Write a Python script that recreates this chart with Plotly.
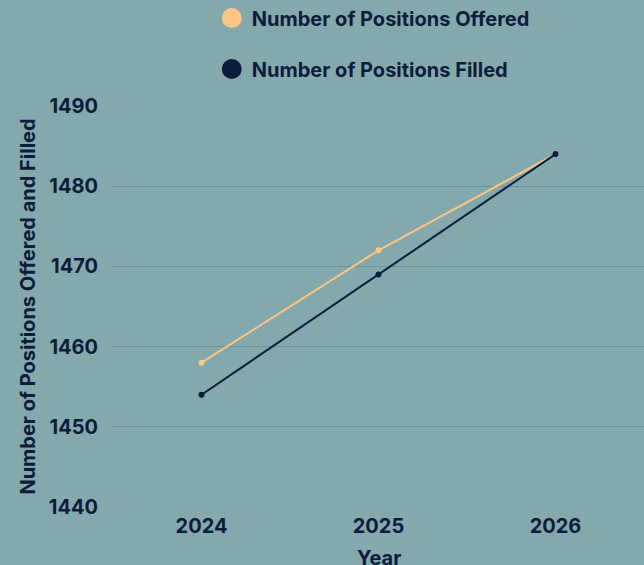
import plotly.graph_objects as go

years = [2024, 2025, 2026]
offered = [1458, 1472, 1484]
filled = [1454, 1469, 1484]
series_names = ["Number of Positions Offered", "Number of Positions Filled"]
x_title = "Year"
y_title = "Number of Positions Offered and Filled"

NAVY = "#0B1C3D"
ORANGE = "#FFC583"
BG = "#84A9AC"
GRID = "#6C9497"
FONT = "Inter"
FS = 20

fig = go.Figure()
fig.add_trace(go.Scatter(x=years, y=offered, mode="lines+markers", showlegend=False,
                         line=dict(color=ORANGE, width=2), marker=dict(color=ORANGE, size=6)))
fig.add_trace(go.Scatter(x=years, y=filled, mode="lines+markers", showlegend=False,
                         line=dict(color=NAVY, width=2), marker=dict(color=NAVY, size=6)))
# legend entries
for name, col, grp in [(series_names[0], ORANGE, "a"), (series_names[1], NAVY, "b")]:
    fig.add_trace(go.Scatter(x=[None], y=[None], mode="markers", name=name, legendgroup=grp,
                             marker=dict(color=col, size=16, line=dict(color=col, width=4))))

fig.update_layout(
    width=644, height=565,
    paper_bgcolor=BG, plot_bgcolor=BG,
    margin=dict(l=113, r=0, t=106, b=58, autoexpand=False),
    font=dict(family=FONT, color=NAVY, size=FS),
    legend=dict(x=0.186, xanchor="left", y=1.268, yanchor="top",
                font=dict(family=FONT, size=20, color=NAVY, weight="bold"),
                bgcolor="rgba(0,0,0,0)", traceorder="grouped", tracegroupgap=22,
                itemsizing="trace"),
    xaxis=dict(range=[2023.5, 2026.5], tickvals=years, ticktext=[str(y) for y in years],
               showgrid=False, zeroline=False, showline=False, automargin=False,
               tickfont=dict(family=FONT, size=FS, color=NAVY, weight="bold"),
               ticks="outside", ticklen=1, tickcolor="rgba(0,0,0,0)"),
    yaxis=dict(range=[1440, 1490], dtick=10, showgrid=True, gridcolor=GRID, gridwidth=1,
               zeroline=False, showline=False, automargin=False,
               tickfont=dict(family=FONT, size=FS, color=NAVY, weight="bold"),
               ticks="outside", ticklen=10, tickcolor="rgba(0,0,0,0)",
               title=dict(text=y_title, standoff=7,
                          font=dict(family=FONT, size=20, color=NAVY, weight="bold"))),
    annotations=[dict(text=x_title, xref="paper", yref="paper", x=0.5, y=0,
                      xanchor="center", yanchor="top", yshift=-37, showarrow=False,
                      font=dict(family=FONT, size=20, color=NAVY, weight="bold"))],
)

fig.write_html("out.html", config={"displayModeBar": False},
               post_script="document.body.style.margin='0';")
